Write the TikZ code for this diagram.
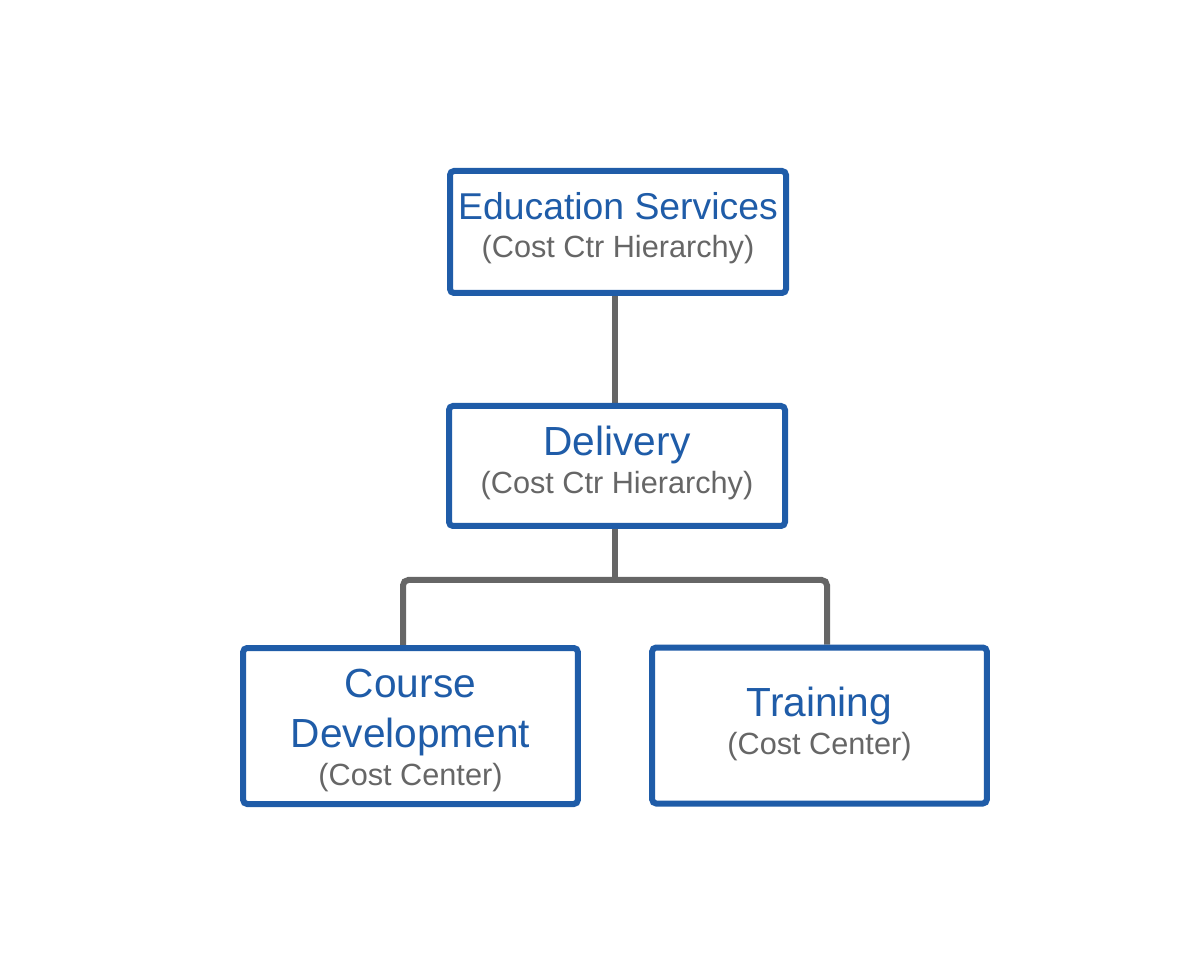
\documentclass[tikz,border=0pt]{standalone}
\usepackage{fontspec}
\setmainfont{Liberation Sans}
\usetikzlibrary{positioning,backgrounds}
\definecolor{boxblue}{HTML}{1F5CA8}
\definecolor{linegray}{HTML}{666666}
\tikzset{
  unitbox/.style={draw=boxblue, line width=4.5pt, rounded corners=3pt, fill=white,
    align=center, text=boxblue, inner sep=0pt, font=\fontsize{30.5}{30}\selectfont},
  link/.style={draw=linegray, line width=4.5pt, rounded corners=4pt}
}
\newcommand{\subline}[1]{{\fontsize{23}{30}\selectfont\color{linegray}#1}}
\begin{document}
\begin{tikzpicture}[x=0.75pt,y=0.75pt]
	\useasboundingbox (0,0) rectangle (1200,958);

	%Kostenstellen
	\node[unitbox, minimum width=252pt, minimum height=91.5pt, font=\fontsize{28}{30}\selectfont] (edu) at (618,726)
		{Education Services\\[-1.5pt]\subline{(Cost Ctr Hierarchy)\rule[-10.8pt]{0pt}{10.8pt}}};
	\node[unitbox, minimum width=252pt, minimum height=90pt] (del) at (617,492)
		{Delivery\\[-1.5pt]\subline{(Cost Ctr Hierarchy)\rule[-9.3pt]{0pt}{9.3pt}}};
	\node[unitbox, minimum width=251pt, minimum height=117pt] (dev) at (410.5,232)
		{\rule{0pt}{28pt}Course\\[7.5pt]Development\\[-1.5pt]\subline{(Cost Center)}};
	\node[unitbox, minimum width=251pt, minimum height=117pt] (trn) at (819.5,232.5)
		{Training\\[-1.5pt]\subline{(Cost Center)\rule[-7pt]{0pt}{7pt}}};

	%Verbindungen
	\coordinate (forkM) at (615,378);
	\coordinate (forkL) at (403,378);
	\coordinate (forkR) at (827,378);
	\begin{scope}[on background layer]
		\draw[link] (edu.south -| forkM) -- (del.north -| forkM);
		\draw[link] (del.south -| forkM) -- (forkM);
		\draw[link] (dev.north -| forkL) -- (forkL) -- (forkR) -- (trn.north -| forkR);
	\end{scope}
\end{tikzpicture}
\end{document}
